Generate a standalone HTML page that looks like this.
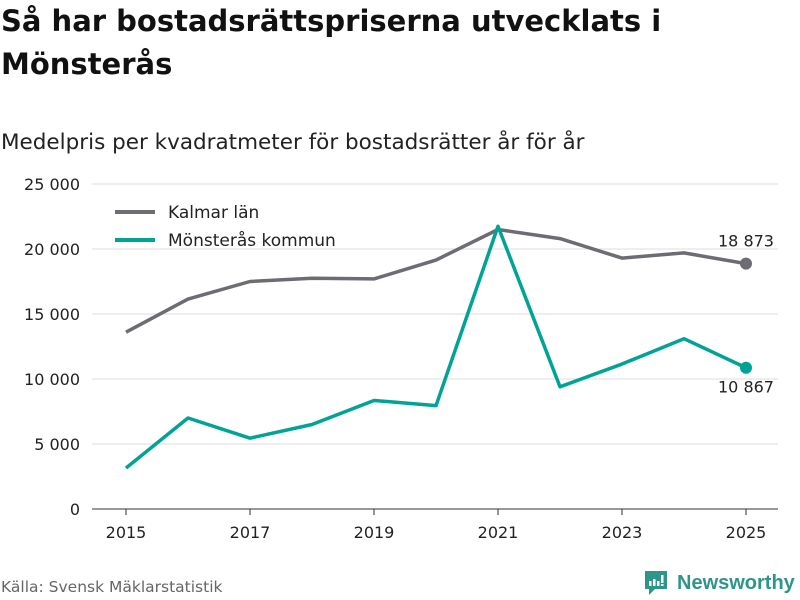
<!DOCTYPE html>
<html><head><meta charset="utf-8"><style>
body{margin:0;background:#fff;font-family:"DejaVu Sans","Liberation Sans",sans-serif;}
#wrap{position:relative;width:800px;height:600px;overflow:hidden}
h1{position:absolute;left:1px;top:0px;margin:0;font-size:29px;line-height:43px;font-weight:bold;color:#111;width:790px}
.sub{position:absolute;left:1px;top:130px;font-size:21.5px;color:#222}
.src{position:absolute;left:1px;top:578px;font-size:15.5px;color:#666}
.logo{position:absolute;left:643px;top:569px;display:flex;align-items:center;color:#2e958b;font-size:20px;font-weight:bold;font-family:"Liberation Sans",sans-serif}
</style></head><body>
<div id="wrap">
<h1>Så har bostadsrättspriserna utvecklats i<br>Mönsterås</h1>
<div class="sub">Medelpris per kvadratmeter för bostadsrätter år för år</div>
<svg id="chart" width="800" height="600" style="position:absolute;left:0;top:0"></svg>
<div class="src">Källa: Svensk Mäklarstatistik</div>
<div class="logo"><svg width="26" height="28" viewBox="0 0 26 28"><path d="M2 2h22v18H12l-6 6v-6H2z" fill="#2e958b"/><rect x="6" y="12" width="2.5" height="5" fill="#fff"/><rect x="10" y="10" width="2.5" height="7" fill="#fff"/><rect x="14" y="12" width="2.5" height="5" fill="#fff"/><rect x="18" y="6" width="2.5" height="8" fill="#fff"/><rect x="18" y="15" width="2.5" height="2" fill="#fff"/></svg><span style="margin-left:8px">Newsworthy</span></div>
</div>
<script>
const years=[2015,2016,2017,2018,2019,2020,2021,2022,2023,2024,2025];
const kalmar=[13600,16150,17500,17750,17700,19150,21500,20800,19300,19700,18873];
const monsteras=[3150,7000,5450,6500,8350,7950,21750,9400,11150,13100,10867];
const yTicks=[0,5000,10000,15000,20000,25000];
const xTicks=[2015,2017,2019,2021,2023,2025];
const ns="http://www.w3.org/2000/svg";
const svg=document.getElementById('chart');
const x=v=>126+(v-2015)*62;
const y=v=>509-v*0.013;
const fmt=v=>String(v).replace(/\B(?=(\d{3})+(?!\d))/g,' ');
function mk(t,a){const e=document.createElementNS(ns,t);for(const k in a)e.setAttribute(k,a[k]);svg.appendChild(e);return e;}
yTicks.forEach(t=>{
 const l=mk('line',{x1:92,x2:778,y1:y(t),y2:y(t),stroke:t?'#ddd':'#333','stroke-width':1});
 
 
 const tx=mk('text',{x:80,y:y(t)+6,'text-anchor':'end','font-size':16,fill:'#222','font-family':'DejaVu Sans,Liberation Sans,sans-serif'});
 tx.textContent=fmt(t);
 
 
});
xTicks.forEach(t=>{
 const l=mk('line',{x1:x(t),x2:x(t),y1:509,y2:515,stroke:'#333'});
 
 
 const tx=mk('text',{x:x(t),y:538,'text-anchor':'middle','font-size':16,fill:'#222','font-family':'DejaVu Sans,Liberation Sans,sans-serif'});
 tx.textContent=t;
 
 
});
function series(vals,color,name,labelDy){
 const p=mk('polyline',{points:vals.map((v,i)=>x(years[i])+','+y(v)).join(' '),fill:'none',stroke:color,'stroke-width':3.5,'stroke-linejoin':'round'});
 
 
 const last=vals.length-1;
 const c=mk('circle',{cx:x(years[last]),cy:y(vals[last]),r:6,fill:color});
 
 
 const t=mk('text',{x:x(years[last]),y:y(vals[last])+labelDy,'text-anchor':'middle','font-size':16,fill:'#222','font-family':'DejaVu Sans,Liberation Sans,sans-serif'});
 t.textContent=fmt(vals[last]);
 
 
}
series(kalmar,'#6d6c72','kalmar',-17);
series(monsteras,'#00a396','monsteras',25);
[['Kalmar län','#6d6c72',212],['Mönsterås kommun','#00a396',240]].forEach(([n,c,yy])=>{
 const l=mk('line',{x1:115,x2:155,y1:yy,y2:yy,stroke:c,'stroke-width':4});
 
 
 const t=mk('text',{x:168,y:yy+6,'font-size':17,fill:'#222','font-family':'DejaVu Sans,Liberation Sans,sans-serif'});
 t.textContent=n;
 
 
});
</script>
</body></html>
